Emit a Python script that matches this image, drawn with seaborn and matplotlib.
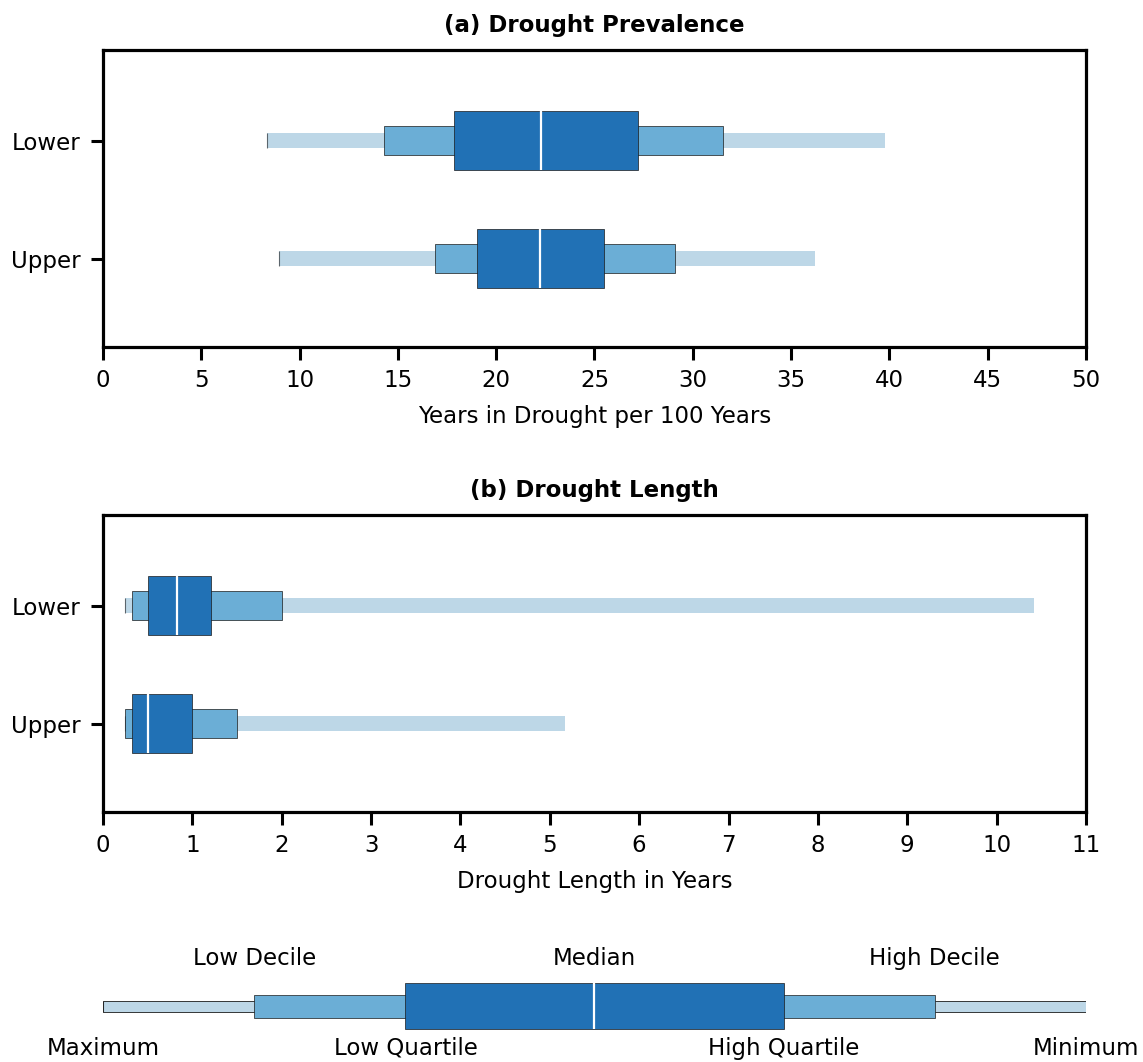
import matplotlib
matplotlib.use("Agg")
import matplotlib.pyplot as plt
import seaborn as sns

sns.set_style("ticks")
plt.rcParams['font.family'] = ['DejaVu Sans']
plt.rcParams['text.color'] = 'black'
plt.rcParams['axes.labelcolor'] = 'black'
plt.rcParams['xtick.color'] = 'black'
plt.rcParams['ytick.color'] = 'black'

# Letter-value summaries per section: min, low decile, low quartile,
# median, high quartile, high decile, max
sections = ["Lower", "Upper"]
prevalence_lower = [8.35, 14.3, 17.85, 22.3, 27.2, 31.55, 39.8]
prevalence_upper = [8.95, 16.9, 19.0, 22.25, 25.5, 29.1, 36.2]
length_lower = [0.25, 0.33, 0.5, 0.83, 1.21, 2.0, 10.42]
length_upper = [0.25, 0.25, 0.33, 0.5, 1.0, 1.5, 5.17]
key_values = [0, 1, 2, 3.25, 4.5, 5.5, 6.5]
key_top_labels = ["Low Decile", "Median", "High Decile"]
key_bottom_labels = ["Maximum", "Low Quartile", "High Quartile", "Minimum"]

blues = ["#bdd7e7", "#6baed6", "#2171b5"]
edge = "#1a1a1a"
heights = [0.125, 0.25, 0.5]
FS = 16.5


def draw_letter_values(ax, y, v, outline_whisker=False):
    lo, ld, lq, med, hq, hd, hi = v
    hw, hd_, hq_ = heights
    # outer whisker band (min to max)
    ax.barh(y, hi - lo, left=lo, height=hw, color=blues[0],
            edgecolor=edge if outline_whisker else "none",
            linewidth=0.6, zorder=1)
    ax.vlines(lo, y - hw / 2, y + hw / 2, color=edge, linewidth=0.8,
              alpha=0.6, zorder=2)
    # decile band
    ax.barh(y, hd - ld, left=ld, height=hd_, color=blues[1],
            edgecolor=edge, linewidth=0.5, zorder=2)
    # quartile box
    ax.barh(y, hq - lq, left=lq, height=hq_, color=blues[2],
            edgecolor=edge, linewidth=0.5, zorder=3)
    ax.vlines(med, y - hq_ / 2, y + hq_ / 2, color="white",
              linewidth=1.6, zorder=5)


fig = plt.figure(figsize=(11.43, 10.62), dpi=100)
ax_a = fig.add_axes([0.0901, 0.6733, 0.8600, 0.2797])
ax_b = fig.add_axes([0.0901, 0.2354, 0.8600, 0.2797])
ax_k = fig.add_axes([0.0901, 0.0, 0.8600, 0.1130])

panels = [
    (ax_a, [prevalence_lower, prevalence_upper], (0, 50), range(0, 51, 5),
     "(a) Drought Prevalence", "Years in Drought per 100 Years"),
    (ax_b, [length_lower, length_upper], (0, 11), range(0, 12),
     "(b) Drought Length", "Drought Length in Years"),
]

for ax, series, xlim, ticks, title, xlabel in panels:
    for i, v in enumerate(series):
        draw_letter_values(ax, i, v)
    ax.set_xlim(*xlim)
    ax.set_ylim(1.75, -0.77)
    ax.set_xticks(list(ticks))
    ax.set_yticks(range(len(sections)))
    ax.set_yticklabels(sections)
    ax.tick_params(axis="both", labelsize=FS, length=9, width=2.2, pad=7)
    for s in ax.spines.values():
        s.set_linewidth(2.3)
        s.set_color("black")
    ax.set_title(title, fontsize=FS, fontweight="bold", pad=13)
    ax.set_xlabel(xlabel, fontsize=FS, labelpad=9)

# Key explaining the box layers
draw_letter_values(ax_k, 0, key_values, outline_whisker=True)
ax_k.set_xlim(0, 6.5)
ax_k.set_ylim(-0.697, 0.603)
ax_k.invert_yaxis()
ax_k.axis("off")
lo, ld, lq, med, hq, hd, hi = key_values
for x, t in zip([ld, med, hd], key_top_labels):
    ax_k.text(x, -0.52, t, ha="center", va="center", fontsize=FS)
for x, t in zip([lo, lq, hq, hi], key_bottom_labels):
    ax_k.text(x, 0.455, t, ha="center", va="center", fontsize=FS)

fig.savefig("out.png", dpi=100)
